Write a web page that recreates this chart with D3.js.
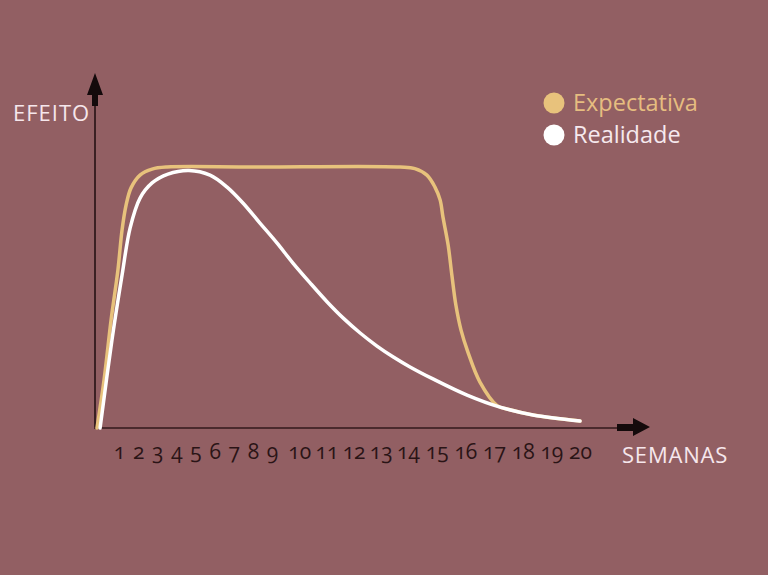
<!DOCTYPE html>
<html><head><meta charset="utf-8">
<script src="https://cdn.jsdelivr.net/npm/d3@7"></script>
<style>
html,body{margin:0;padding:0;background:#925f63;}
svg{display:block;}
</style></head><body>
<svg id="chart" width="768" height="575"></svg>
<script>
// ---- data ----
const tickLabels = [1,2,3,4,5,6,7,8,9,10,11,12,13,14,15,16,17,18,19,20];
const seriesNames = ["Expectativa", "Realidade"];
const xTitle = "SEMANAS";
const yTitle = "EFEITO";
// Expectativa: weeks and effect (0-100)
const expWeeks  = [0, 0.32, 0.64, 0.95, 1.16, 1.37, 1.63, 2.10, 2.73, 3.51, 8, 13.71, 14.24, 14.66, 14.94, 15.12, 15.22, 15.40, 15.53, 15.67, 15.85, 16.09, 16.51, 17.11, 17.56, 18.36, 20];
const expValues = [0, 18.4, 41.4, 60.5, 75.9, 85.4, 92.0, 96.9, 99.2, 100, 100, 100, 99.4, 96.9, 92.3, 87.4, 80.8, 70.1, 58.6, 47.1, 37.5, 29.1, 17.6, 8.6, 7.0, 5.0, 2.7];
// Realidade
const realWeeks  = [0.14, 0.68, 1.16, 1.58, 2.10, 2.73, 3.56, 4.66, 5.76, 6.65, 7.48, 8.37, 9.18, 9.77, 10.40, 11.03, 11.62, 12.24, 12.86, 13.46, 14.07, 14.87, 16.06, 17.21, 18.36, 20];
const realValues = [0, 33.7, 58.6, 76.6, 88.1, 93.9, 97.3, 98.7, 96.9, 92.3, 86.2, 78.5, 70.9, 63.2, 55.6, 48.3, 42.1, 36.4, 31.4, 27.2, 23.4, 18.8, 12.6, 8.0, 5.0, 2.7];

// ---- layout ----
const W = 768, H = 575;
const BG = "#925f63";
const YELLOW = "#e8c27c";
const svg = d3.select("#chart");
svg.append("rect").attr("width", W).attr("height", H).attr("fill", BG);

const x = d3.scaleLinear().domain([0, 1, 9, 14, 20]).range([97, 119, 272, 408, 580]);
const y = d3.scaleLinear().domain([0, 100]).range([428, 167]);
const FONT = "'Open Sans', 'Noto Sans', sans-serif";

// axes lines
const axisColor = "#3b2023";
svg.append("line").attr("x1", 95).attr("x2", 95).attr("y1", 429).attr("y2", 100)
  .attr("stroke", axisColor).attr("stroke-width", 2);
svg.append("line").attr("x1", 94).attr("x2", 620).attr("y1", 428).attr("y2", 428)
  .attr("stroke", "#4a2a2d").attr("stroke-width", 2.2);
// arrow heads
svg.append("path").attr("d", "M95,73 L103,95 L98,95 L98,106 L92,106 L92,95 L87,95 Z")
  .attr("fill", "#140a0b");
svg.append("path").attr("d", "M650,427 L633,418 L633,424 L617,424 L617,431 L633,431 L633,436 Z")
  .attr("fill", "#140a0b");

// x tick labels via axis
const gx = svg.append("g").attr("transform", "translate(0,428)")
  .call(d3.axisBottom(x).tickValues(tickLabels).tickSize(0).tickPadding(16).tickFormat(d3.format("d")));
gx.select(".domain").remove();
gx.selectAll("text")
  .attr("fill", "#2a1416")
  .style("font-family", FONT)
  .style("font-size", "21px")
  .style("font-variant-numeric", "oldstyle-nums");

// curves
const line = d3.line().x(d => x(d[0])).y(d => y(d[1])).curve(d3.curveCatmullRom.alpha(0.5));
const expData = expWeeks.map((w, i) => [w, expValues[i]]);
const realData = realWeeks.map((w, i) => [w, realValues[i]]);
svg.append("path").attr("d", line(expData)).attr("fill", "none")
  .attr("stroke", YELLOW).attr("stroke-width", 3.5).attr("stroke-linecap", "round");
svg.append("path").attr("d", line(realData)).attr("fill", "none")
  .attr("stroke", "#ffffff").attr("stroke-width", 3.5).attr("stroke-linecap", "round");

// axis titles
svg.append("text").attr("x", 13).attr("y", 121).text(yTitle)
  .attr("fill", "#f6e7ec").style("font-family", FONT).style("font-size", "22px").style("letter-spacing", "1px");
svg.append("text").attr("x", 622).attr("y", 463).text(xTitle)
  .attr("fill", "#f6e7ec").style("font-family", FONT).style("font-size", "22px").style("letter-spacing", "0.8px");

// legend
const legendColors = [YELLOW, "#ffffff"];
const legendText = ["#e6bd80", "#f6e9ee"];
const lg = svg.append("g").selectAll("g").data(seriesNames).join("g")
  .attr("transform", (d, i) => `translate(554,${103 + i * 32})`);
lg.append("circle").attr("r", 10.5).attr("fill", (d, i) => legendColors[i]);
lg.append("text").attr("x", 19).attr("y", 7.5).text(d => d)
  .attr("fill", (d, i) => legendText[i]).style("font-family", FONT).style("font-size", "23.5px");
</script>
</body></html>
